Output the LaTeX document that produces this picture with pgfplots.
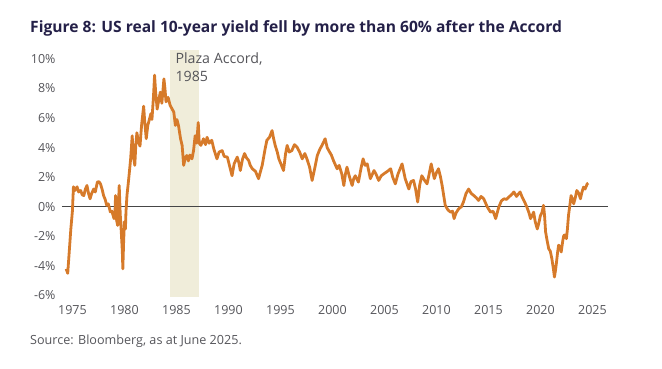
\documentclass[border=0pt]{standalone}
\usepackage{pgfplots}
\pgfplotsset{compat=1.18}
\usepackage{fontspec}
\setmainfont{Open Sans}
\definecolor{lineor}{RGB}{214,122,42}
\definecolor{band}{RGB}{240,237,218}
\definecolor{titlec}{RGB}{36,32,72}
\definecolor{tickc}{RGB}{85,85,90}
\definecolor{zeroc}{RGB}{70,70,70}
\begin{document}
\begin{tikzpicture}[x=1pt,y=1pt]
\useasboundingbox (-62,-71) rectangle (600,297);
\begin{axis}[
  at={(0,0)}, anchor=south west,
  scale only axis, width=546pt, height=247pt,
  xmin=1974, xmax=2026.5, ymin=-6.1, ymax=10.6,
  axis line style={draw=none},
  major tick length=0pt,
  xtick={1975,1980,1985,1990,1995,2000,2005,2010,2015,2020,2025},
  xticklabels={1975,1980,1985,1990,1995,2000,2005,2010,2015,2020,2025},
  ytick={-6,-4,-2,0,2,4,6,8,10},
  yticklabels={-6\%,-4\%,-2\%,0\%,2\%,4\%,6\%,8\%,10\%},
  tick label style={font=\fontsize{12.5}{14}\selectfont, text=tickc},
  xticklabel style={yshift=-5pt},
  yticklabel style={xshift=-3pt},
  clip=false,
]
\addplot[fill=band, draw=none] coordinates {(1984.4,-6.1) (1987.2,-6.1) (1987.2,10.6) (1984.4,10.6)} -- cycle;
\addplot[zeroc, line width=0.9pt] coordinates {(1974,0) (2026.5,0)};
\addplot[lineor, line width=2.8pt, line join=round] coordinates {
(1974.40,-4.2) (1974.55,-4.5) (1974.70,-3.0) (1974.85,-1.5) (1975.00,-0.3) (1975.10,1.35) (1975.25,1.1) (1975.45,1.35) (1975.60,1.0) (1975.80,1.1)
(1975.95,0.8) (1976.10,0.76) (1976.25,1.2) (1976.40,1.44) (1976.55,0.9) (1976.70,0.54) (1976.85,0.9) (1977.05,1.2) (1977.20,1.0) (1977.40,1.67)
(1977.55,1.7) (1977.70,1.55) (1977.85,1.2) (1978.00,0.76) (1978.15,0.5) (1978.30,0.1) (1978.45,0.2) (1978.65,-0.35) (1978.80,-0.3) (1979.00,-0.8)
(1979.10,-0.3) (1979.15,0.76) (1979.25,-0.9) (1979.35,-1.26) (1979.45,0.5) (1979.50,1.44) (1979.60,-0.5) (1979.70,-1.7) (1979.80,-3.0) (1979.85,-4.2)
(1979.92,-2.5) (1980.00,-1.0) (1980.10,-1.5) (1980.15,-0.35) (1980.25,0.8) (1980.35,1.44) (1980.50,2.5) (1980.60,3.24) (1980.75,4.8) (1980.85,3.5)
(1981.00,2.8) (1981.10,4.2) (1981.20,5.0) (1981.35,4.4) (1981.50,4.1) (1981.65,5.5) (1981.85,6.8) (1981.95,5.8) (1982.10,4.6) (1982.25,5.5)
(1982.40,5.9) (1982.55,6.3) (1982.65,5.9) (1982.80,7.5) (1982.90,8.9) (1983.00,7.8) (1983.15,6.6) (1983.30,7.2) (1983.45,7.75) (1983.60,7.0)
(1983.80,8.65) (1983.90,8.0) (1984.00,7.1) (1984.20,7.4) (1984.40,6.85) (1984.60,6.6) (1984.75,6.4) (1984.90,5.5) (1985.05,5.9) (1985.20,5.5)
(1985.40,4.6) (1985.55,4.15) (1985.70,2.8) (1985.85,3.3) (1986.00,3.47) (1986.15,3.1) (1986.30,3.5) (1986.50,3.24) (1986.65,3.8) (1986.80,4.8)
(1986.95,4.3) (1987.10,5.7) (1987.20,4.3) (1987.35,4.15) (1987.50,4.4) (1987.60,4.6) (1987.80,4.2) (1987.95,4.7) (1988.15,4.3) (1988.40,4.5)
(1988.60,3.9) (1988.90,3.24) (1989.10,3.7) (1989.40,3.8) (1989.60,3.4) (1989.90,3.36) (1990.10,2.8) (1990.35,2.1) (1990.55,2.9) (1990.85,3.36)
(1991.00,3.0) (1991.15,2.45) (1991.35,3.2) (1991.55,3.6) (1991.75,3.3) (1991.95,3.13) (1992.10,2.8) (1992.30,2.57) (1992.60,2.4) (1992.90,1.9)
(1993.05,2.3) (1993.25,2.8) (1993.50,3.8) (1993.70,4.5) (1993.95,4.7) (1994.20,5.15) (1994.35,4.6) (1994.50,4.15) (1994.70,3.7) (1994.85,3.24)
(1995.05,2.9) (1995.30,2.45) (1995.50,3.6) (1995.65,4.15) (1995.85,3.7) (1996.10,3.8) (1996.35,4.2) (1996.60,4.03) (1996.85,3.7) (1997.10,3.24)
(1997.35,3.6) (1997.55,3.24) (1997.80,2.7) (1998.05,1.78) (1998.30,2.6) (1998.55,3.47) (1998.80,3.9) (1999.00,4.15) (1999.30,4.6) (1999.50,4.0)
(1999.65,3.8) (1999.90,3.5) (2000.10,3.13) (2000.45,2.57) (2000.65,2.8) (2000.90,2.23) (2001.10,1.44) (2001.25,2.2) (2001.40,2.68) (2001.65,2.0)
(2001.90,1.44) (2002.05,1.9) (2002.20,2.1) (2002.50,1.67) (2002.75,2.6) (2002.95,3.24) (2003.15,2.8) (2003.35,2.9) (2003.65,1.9) (2004.00,2.45)
(2004.20,2.2) (2004.45,1.78) (2004.70,2.1) (2004.95,2.23) (2005.30,2.4) (2005.60,2.57) (2005.80,2.0) (2006.05,1.55) (2006.30,2.2) (2006.70,2.9)
(2006.85,2.4) (2007.00,1.9) (2007.35,1.2) (2007.55,1.7) (2007.80,1.78) (2008.00,1.2) (2008.20,0.32) (2008.40,1.5) (2008.60,2.1) (2008.85,1.8)
(2009.10,1.55) (2009.30,2.2) (2009.50,2.9) (2009.65,2.4) (2009.80,1.9) (2010.00,2.3) (2010.20,2.57) (2010.40,2.0) (2010.55,1.44) (2010.85,0.1)
(2011.10,-0.2) (2011.35,-0.36) (2011.55,-0.3) (2011.70,-0.8) (2011.90,-0.4) (2012.15,-0.13) (2012.40,0.0) (2012.60,0.32) (2012.85,0.9) (2013.10,1.2)
(2013.35,0.9) (2013.60,0.76) (2013.85,0.6) (2014.05,0.43) (2014.30,0.7) (2014.55,0.54) (2014.90,-0.02) (2015.20,-0.36) (2015.45,-0.3) (2015.70,-0.8)
(2015.85,-0.4) (2016.00,-0.02) (2016.25,0.4) (2016.50,0.54) (2016.75,0.5) (2016.95,0.65) (2017.20,0.8) (2017.45,1.0) (2017.70,0.7) (2017.90,0.88)
(2018.05,1.0) (2018.25,0.65) (2018.50,0.3) (2018.70,-0.02) (2018.90,-0.4) (2019.05,-0.8) (2019.20,-0.6) (2019.35,-0.36) (2019.50,-1.0) (2019.70,-1.5)
(2019.85,-1.1) (2020.00,-0.6) (2020.15,-0.4) (2020.30,0.1) (2020.40,-0.6) (2020.50,-1.7) (2020.65,-2.3) (2020.80,-2.84) (2020.95,-3.0) (2021.10,-3.5)
(2021.25,-4.2) (2021.35,-4.75) (2021.45,-4.3) (2021.55,-3.74) (2021.65,-3.1) (2021.75,-2.6) (2021.90,-2.7) (2022.00,-3.06) (2022.15,-2.3) (2022.25,-1.94)
(2022.40,-1.9) (2022.50,-2.16) (2022.60,-1.5) (2022.70,-0.59) (2022.85,0.2) (2022.95,0.76) (2023.10,0.5) (2023.20,0.2) (2023.35,0.6) (2023.50,1.1)
(2023.70,0.9) (2023.85,0.54) (2024.00,1.0) (2024.15,1.33) (2024.30,1.2) (2024.50,1.55) (2024.60,1.6)
};
\node[anchor=north west, align=left, text=tickc, font=\fontsize{14.2}{18}\selectfont, inner sep=0pt] at (axis cs:1984.9,10.4) {Plaza Accord,\\1985};
\end{axis}
\node[anchor=base west, inner sep=0pt, text=titlec, font=\fontsize{15.6}{18}\selectfont\bfseries] at (-32,265) {Figure 8: US real 10-year yield fell by more than 60\% after the Accord};
\node[anchor=base west, inner sep=0pt, text=tickc, font=\fontsize{12.6}{14}\selectfont] at (-32,-47) {Source: Bloomberg, as at June 2025.};
\end{tikzpicture}
\end{document}
